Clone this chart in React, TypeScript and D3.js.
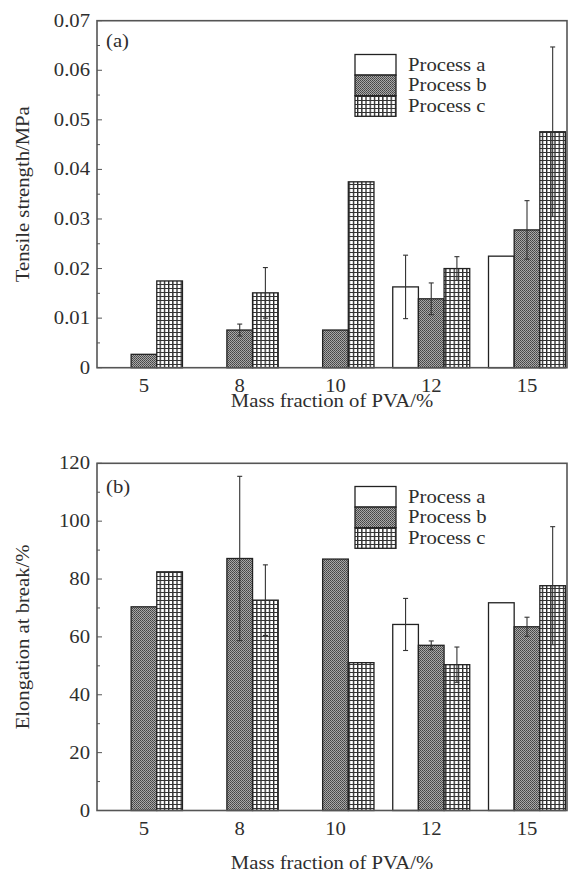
import React, { useRef, useEffect } from "react";
import { select, scaleLinear, scaleBand, scalePoint, range } from "d3";

const categories = ["5", "8", "10", "12", "15"];
const processNames = ["Process a", "Process b", "Process c"];

// (a) tensile strength, MPa (0 = no bar)
const tensileA = [0, 0, 0, 0.0163, 0.0225];
const tensileB = [0.0027, 0.0076, 0.0076, 0.0139, 0.0278];
const tensileC = [0.0175, 0.0151, 0.0375, 0.02, 0.0476];
const tensileErrA = [0, 0, 0, 0.0064, 0];
const tensileErrB = [0, 0.0012, 0, 0.0032, 0.0059];
const tensileErrC = [0, 0.0051, 0, 0.0024, 0.0171];
const tensileTicks = [0, 0.01, 0.02, 0.03, 0.04, 0.05, 0.06, 0.07];
const tensileTickLabels = ["0", "0.01", "0.02", "0.03", "0.04", "0.05", "0.06", "0.07"];

// (b) elongation at break, %
const elongA = [0, 0, 0, 64.3, 71.8];
const elongB = [70.4, 87.1, 86.9, 57.1, 63.5];
const elongC = [82.5, 72.7, 51.1, 50.4, 77.7];
const elongErrA = [0, 0, 0, 9, 0];
const elongErrB = [0, 28.4, 0, 1.5, 3.3];
const elongErrC = [0, 12.2, 0, 6.1, 20.4];
const elongTicks = [0, 20, 40, 60, 80, 100, 120];
const elongTickLabels = ["0", "20", "40", "60", "80", "100", "120"];

const FONT = "'Liberation Serif', 'Times New Roman', serif";
const INK = "#2e2e2e";
const fills = ["#ffffff", "url(#patB)", "url(#patC)"];
const left = 97;
const right = 567;

interface PanelProps {
  top: number;
  bottom: number;
  yMax: number;
  ticks: number[];
  tickLabels: string[];
  values: number[][];
  errors: number[][];
  yTitle: string;
  tag: string;
  tagY: number;
  legendTop: number;
  titleY: number;
}

const Panel: React.FC<PanelProps> = (p) => {
  const gRef = useRef<SVGGElement>(null);

  useEffect(() => {
    const g = select(gRef.current);
    g.selectAll("*").remove();

    const x = scalePoint<string>()
      .domain(categories)
      .range([left, right])
      .padding(0.454)
      .align(0.54);
    const inner = scaleBand<number>().domain([0, 1, 2]).range([-38.5, 38.5]);
    const y = scaleLinear().domain([0, p.yMax]).range([p.bottom, p.top]);
    const bw = inner.bandwidth();

    // bars
    p.values.forEach((vals, s) => {
      g.append("g")
        .selectAll("rect")
        .data(vals.map((v, i) => ({ v, c: categories[i] })).filter((d) => d.v > 0))
        .join("rect")
        .attr("x", (d) => x(d.c)! + inner(s)!)
        .attr("y", (d) => y(d.v))
        .attr("width", bw)
        .attr("height", (d) => p.bottom - y(d.v))
        .attr("fill", fills[s])
        .attr("stroke", "#222")
        .attr("stroke-width", 1.3);
    });

    // error bars
    p.values.forEach((vals, s) => {
      vals.forEach((v, i) => {
        const e = p.errors[s][i];
        if (!e || !v) return;
        const cx = x(categories[i])! + inner(s)! + bw / 2;
        const eb = g.append("g").attr("stroke", "#333").attr("stroke-width", 1.1);
        eb.append("line").attr("x1", cx).attr("x2", cx).attr("y1", y(v - e)).attr("y2", y(v + e));
        [v - e, v + e].forEach((yy) =>
          eb.append("line").attr("x1", cx - 2.5).attr("x2", cx + 2.5).attr("y1", y(yy)).attr("y2", y(yy))
        );
      });
    });

    // frame
    g.append("rect")
      .attr("x", left)
      .attr("y", p.top)
      .attr("width", right - left)
      .attr("height", p.bottom - p.top)
      .attr("fill", "none")
      .attr("stroke", "#555")
      .attr("stroke-width", 1.6);

    // y ticks, inward
    const step = p.ticks[1] - p.ticks[0];
    g.selectAll(".major")
      .data(p.ticks)
      .join("line")
      .attr("x1", left)
      .attr("x2", left + 5)
      .attr("y1", (d) => y(d))
      .attr("y2", (d) => y(d))
      .attr("stroke", "#555");
    g.selectAll(".minor")
      .data(range(p.ticks.length - 1).map((i) => p.ticks[i] + step / 2))
      .join("line")
      .attr("x1", left)
      .attr("x2", left + 3)
      .attr("y1", (d) => y(d))
      .attr("y2", (d) => y(d))
      .attr("stroke", "#555");

    const txt = (label: string, tx: number, ty: number, anchor: string, rot = 0) =>
      g.append("text")
        .attr("transform", `translate(${tx},${ty}) rotate(${rot}) scale(1.15,1)`)
        .attr("text-anchor", anchor)
        .attr("font-family", FONT)
        .attr("font-size", 18)
        .attr("fill", INK)
        .text(label);

    p.ticks.forEach((t, i) => txt(p.tickLabels[i], 90, y(t) + 6, "end"));
    categories.forEach((c) => txt(c, x(c)!, p.bottom + 24, "middle"));
    txt("Mass fraction of PVA/%", (left + right) / 2, p.titleY, "middle");
    txt(p.yTitle, 29, (p.top + p.bottom) / 2, "middle", -90);
    txt(p.tag, 106, p.tagY, "start");

    // legend
    processNames.forEach((name, s) => {
      const ry = p.legendTop + s * 20.6;
      g.append("rect")
        .attr("x", 355)
        .attr("y", ry)
        .attr("width", 41)
        .attr("height", 20.6)
        .attr("fill", fills[s])
        .attr("stroke", "#222")
        .attr("stroke-width", 1.3);
      txt(name, 408, ry + 16, "start");
    });
  });

  return <g ref={gRef}></g>;
};

const App: React.FC = () => {
  return (
    <svg
      width={574}
      height={872}
      style={{ position: "absolute", left: 0, top: 0, background: "#fff" }}
    >
      <defs>
        <pattern id="patB" width={2} height={2} patternUnits="userSpaceOnUse">
          <rect width={2} height={2} fill="#a8a8a8" />
          <rect width={1} height={1} fill="#444" />
          <rect x={1} y={1} width={1} height={1} fill="#555" />
        </pattern>
        <pattern id="patC" width={4.2} height={4} patternUnits="userSpaceOnUse">
          <rect width={4.2} height={4} fill="#fff" />
          <rect width={1.3} height={4} fill="#222" />
          <rect width={4.2} height={1} fill="#333" />
        </pattern>
      </defs>
      <Panel
        top={20.7}
        bottom={367.7}
        yMax={0.07}
        ticks={tensileTicks}
        tickLabels={tensileTickLabels}
        values={[tensileA, tensileB, tensileC]}
        errors={[tensileErrA, tensileErrB, tensileErrC]}
        yTitle="Tensile strength/MPa"
        tag="(a)"
        tagY={46.5}
        legendTop={54.5}
        titleY={407}
      />
      <Panel
        top={463.3}
        bottom={810.5}
        yMax={120}
        ticks={elongTicks}
        tickLabels={elongTickLabels}
        values={[elongA, elongB, elongC]}
        errors={[elongErrA, elongErrB, elongErrC]}
        yTitle="Elongation at break/%"
        tag="(b)"
        tagY={493}
        legendTop={486.5}
        titleY={869}
      />
    </svg>
  );
};

export default App;
